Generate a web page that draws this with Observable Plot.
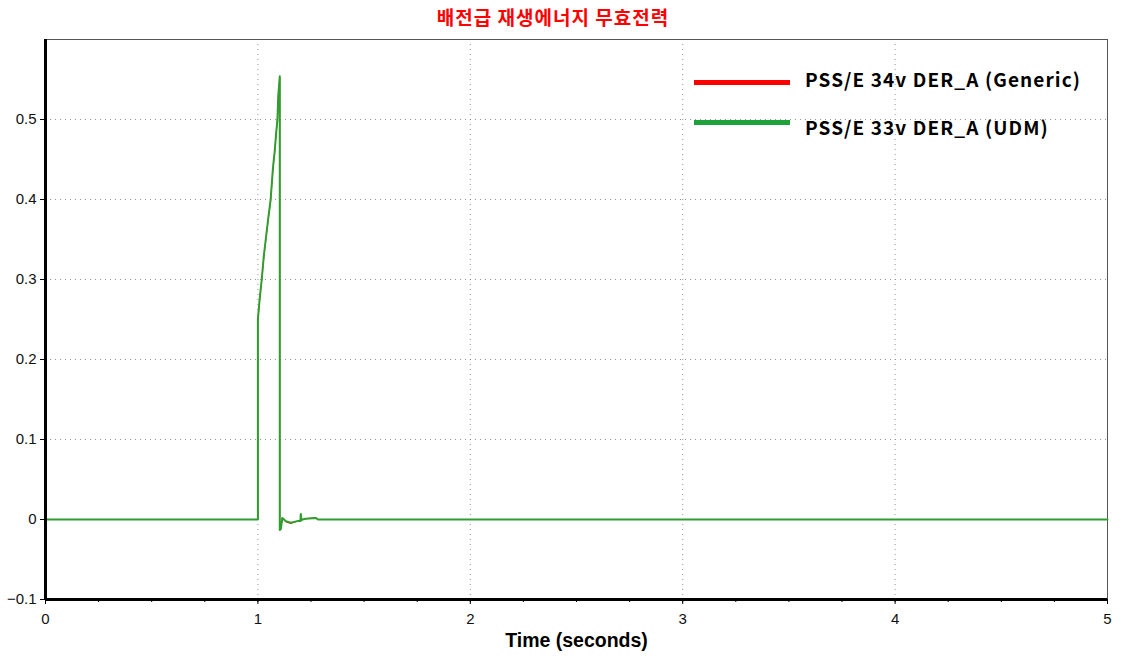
<!DOCTYPE html>
<html>
<head>
<meta charset="utf-8">
<script src="https://cdn.jsdelivr.net/npm/d3@7"></script>
<script src="https://cdn.jsdelivr.net/npm/@observablehq/plot@0.6"></script>
<style>
  body { margin: 0; background: #fff; }
  #wrap { position: relative; width: 1124px; height: 658px; }
  #title { position: absolute; left: 0; top: 0; width: 1106px; height: 34px; text-align: center;
    font-family: "Noto Sans CJK KR", sans-serif; font-weight: bold; font-size: 19px; letter-spacing: 1px; color: #ff0000; line-height: 34px; }
  #chart { position: absolute; left: 0; top: 34px; }
  .leg { position: absolute; left: 694px; width: 96px; height: 5px; }
  .legt { position: absolute; left: 805px; font-family: "Noto Sans CJK KR", sans-serif; font-weight: bold; font-size: 19px; letter-spacing: 1.1px; color: #000; line-height: 24px; white-space: nowrap; }
</style>
</head>
<body>
<div id="wrap">
  <div id="title"></div>
  <div id="chart"></div>
</div>
<script>
const titleText = "배전급 재생에너지 무효전력";
const seriesNames = ["PSS/E 34v DER_A (Generic)", "PSS/E 33v DER_A (UDM)"];
const seriesColors = ["#ff0000", "#1fa23a"];
const lineColors = ["#ff0000", "#2f9e2f"];
const lineWidths = [1, 2];

// time (seconds)
const time = [0, 1.0, 1.0, 1.003, 1.008, 1.012, 1.018, 1.028, 1.037, 1.048, 1.060, 1.071, 1.079, 1.085, 1.092, 1.096, 1.103, 1.103, 1.108, 1.115, 1.131, 1.155, 1.186, 1.200, 1.202, 1.205, 1.210, 1.225, 1.272, 1.283, 5];
// reactive power, Generic model
const generic = [0, 0, 0.248, 0.258, 0.273, 0.284, 0.299, 0.328, 0.349, 0.374, 0.399, 0.438, 0.459, 0.479, 0.502, 0.528, 0.552, -0.012, -0.011, 0.002, -0.003, -0.005, -0.002, -0.002, 0.005, -0.001, 0.0, 0.001, 0.002, 0.0, 0];
// reactive power, UDM model
const udm = [0, 0, 0.25, 0.26, 0.275, 0.285, 0.30, 0.33, 0.35, 0.375, 0.40, 0.44, 0.46, 0.48, 0.50, 0.53, 0.554, -0.013, -0.012, 0.002, -0.002, -0.004, -0.002, -0.002, 0.007, -0.001, 0.0, 0.001, 0.002, 0.0, 0];

const xTicks = [0, 1, 2, 3, 4, 5];
const xMinor = d3.range(0, 5.001, 0.25);
const yTicks = [-0.1, 0, 0.1, 0.2, 0.3, 0.4, 0.5];
const xGrid = [1, 2, 3, 4];
const yGrid = [0.1, 0.2, 0.3, 0.4, 0.5];
const xLabel = "Time (seconds)";

document.getElementById("title").textContent = titleText;

const seriesData = [generic, udm].map((vals, k) => time.map((t, i) => ({t, v: vals[i], s: seriesNames[k]})));

const chart = Plot.plot({
  width: 1124,
  height: 624,
  marginTop: 5,
  marginLeft: 45,
  marginRight: 17,
  marginBottom: 59,
  style: {fontFamily: "'Liberation Sans', Arial, sans-serif", background: "#fff"},
  x: {domain: [0, 5]},
  y: {domain: [-0.1, 0.6]},
  marks: [
    Plot.gridX(xGrid, {stroke: "#888", strokeOpacity: 0.9, strokeDasharray: "1,4"}),
    Plot.gridY(yGrid, {stroke: "#888", strokeOpacity: 0.9, strokeDasharray: "1,4"}),
    Plot.frame({stroke: "#555", strokeWidth: 1}),
    ...seriesData.map((d, k) => Plot.line(d, {x: "t", y: "v", stroke: lineColors[k], strokeWidth: lineWidths[k]})),
    Plot.axisY({ticks: yTicks, tickFormat: d => d === 0 ? "0" : d3.format(".1f")(d), tickSize: 5, tickPadding: 4, fontSize: 15, fill: "#111", label: null}),
    Plot.axisX({ticks: xMinor, tickFormat: () => "", tickSize: 3, label: null}),
    Plot.axisX({ticks: xTicks, tickFormat: d => String(d), tickSize: 5, tickPadding: 9, fontSize: 15, fill: "#111", label: null}),
    Plot.axisX({ticks: [], label: xLabel, labelAnchor: "center", labelArrow: "none", labelOffset: 47, fontSize: 19.5, fontWeight: "bold", fill: "#000"}),
    Plot.ruleX([0], {stroke: "#000", strokeWidth: 3}),
    Plot.ruleY([-0.1], {stroke: "#000", strokeWidth: 3})
  ]
});
document.getElementById("chart").appendChild(chart);

// legend (HTML overlay, inside the plot area)
const wrap = document.getElementById("wrap");
const legY = [82, 122];
seriesNames.forEach((name, i) => {
  const bar = document.createElement("div");
  bar.className = "leg";
  bar.style.top = (legY[i] - 2.5) + "px";
  bar.style.background = seriesColors[i];
  wrap.appendChild(bar);
  const t = document.createElement("div");
  t.className = "legt";
  t.style.top = (legY[i] - 12 + (i === 0 ? -3 : 5)) + "px";
  t.textContent = name;
  wrap.appendChild(t);
});
</script>
</body>
</html>
